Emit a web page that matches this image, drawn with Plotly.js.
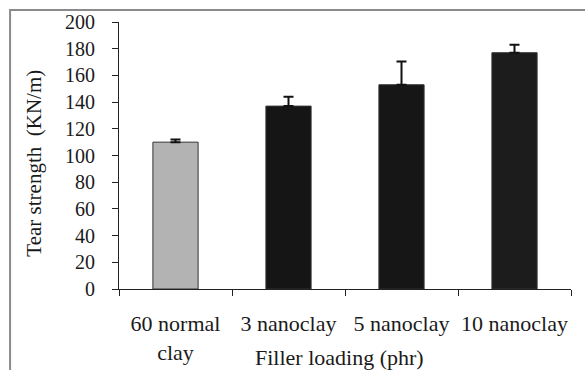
<!DOCTYPE html>
<html>
<head>
<meta charset="utf-8">
<script src="https://cdn.plot.ly/plotly-3.0.1.min.js"></script>
<style>html,body{margin:0;padding:0;background:#fff;}#chart{width:585px;height:370px;}</style>
</head>
<body>
<div id="chart"></div>
<script>
var categories = ["60 normal<br>clay", "3 nanoclay", "5 nanoclay", "10 nanoclay"];
var tearStrength = [110, 137, 153, 177];
var errorPlus = [2, 7, 17.5, 6];
var errorMinus = [0, 0, 0, 0];
var barColors = ["#b3b3b3", "#151515", "#161616", "#1c1c1c"];
var yTicks = [0, 20, 40, 60, 80, 100, 120, 140, 160, 180, 200];
var xTitle = "Filler loading (phr)";
var yTitle = "Tear strength \u00a0(KN/m)";

var serif = "Liberation Serif, Times New Roman, serif";
var ink = "#1a1a1a";

var trace = {
  type: "bar",
  x: categories,
  y: tearStrength,
  width: 0.4,
  marker: {color: barColors, line: {color: "#333", width: 1}},
  error_y: {type: "data", symmetric: false, array: errorPlus, arrayminus: errorMinus,
            color: "#111", thickness: 2, width: 5},
  hoverinfo: "none"
};

var layout = {
  width: 585, height: 370,
  margin: {l: 119, r: 14, t: 22, b: 81},
  paper_bgcolor: "#fff", plot_bgcolor: "#fff",
  showlegend: false,
  font: {family: serif, size: 21, color: ink},
  xaxis: {
    type: "category",
    tickson: "boundaries",
    tickangle: 0,
    automargin: false,
    ticks: "outside", ticklen: 6, tickcolor: "#222",
    showline: true, linecolor: "#222", linewidth: 1,
    showgrid: false, zeroline: false,
    tickfont: {family: serif, size: 22, color: ink},
    ticklabelstandoff: 15
  },
  yaxis: {
    range: [0, 200],
    tickvals: yTicks,
    automargin: false,
    ticks: "outside", ticklen: 6, tickcolor: "#222",
    showline: true, linecolor: "#222", linewidth: 1,
    showgrid: false, zeroline: false,
    tickfont: {family: serif, size: 20, color: ink},
    ticklabelstandoff: 13
  },
  annotations: [{
    text: xTitle, xref: "paper", yref: "paper", x: 0.487, y: -0.258,
    xanchor: "center", yanchor: "middle", showarrow: false,
    font: {family: serif, size: 22, color: ink}
  }, {
    text: yTitle, xref: "paper", yref: "paper", x: -0.19, y: 0.47,
    xanchor: "center", yanchor: "middle", showarrow: false, textangle: -90,
    font: {family: serif, size: 21, color: ink}
  }],
  shapes: [{
    type: "rect", xref: "paper", yref: "paper",
    x0: -0.241, x1: 1.08, y0: -0.4, y1: 1.045,
    line: {color: "#8a8a8a", width: 2}, fillcolor: "rgba(0,0,0,0)", layer: "below"
  }]
};

Plotly.newPlot("chart", [trace], layout, {staticPlot: true, displayModeBar: false});
</script>
</body>
</html>
